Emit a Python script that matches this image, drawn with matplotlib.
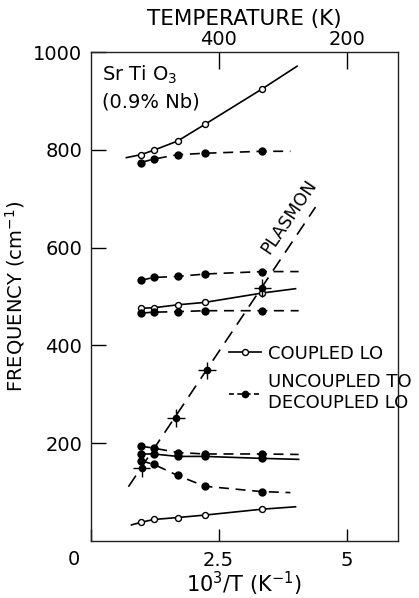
import numpy as np
import matplotlib
matplotlib.use("Agg")
import matplotlib.pyplot as plt
from matplotlib.lines import Line2D

# data, x = 10^3/T (K^-1), y = frequency (cm^-1)
x_pts = [0.98, 1.23, 1.7, 2.23, 3.34]

# coupled LO modes (open circles, solid lines)
lo_high = [790, 799, 818, 852, 924]
lo_high_x = [0.7, 0.98, 1.23, 1.7, 2.23, 3.34, 4.03]
lo_high_y = [784, 790, 799, 818, 852, 924, 971]
lo_mid = [476, 477, 483, 488, 507]
lo_mid_x = [0.98, 1.23, 1.7, 2.23, 3.34, 4.0]
lo_mid_y = [476, 477, 483, 488, 507, 516]
lo_low = [38, 44, 48, 53, 65]
lo_low_x = [0.8, 0.98, 1.23, 1.7, 2.23, 3.34, 4.0]
lo_low_y = [33, 38, 44, 48, 53, 65, 70]

# filled dots on solid line (~175)
to_solid = [178, 178, 173, 173, 169]
to_solid_end = (4.06, 167)

# uncoupled TO / decoupled LO (filled dots, dashed lines)
unc_series = [
    ([774, 781, 790, 793, 797], (3.9, 797)),
    ([533, 539, 541, 546, 551], (4.06, 551)),
    ([466, 468, 469, 471, 471], (4.06, 471)),
    ([194, 190, 181, 178, 178], (4.06, 177)),
    ([164, 157, 134, 112, 101], (3.9, 99)),
]

# plasmon
plasmon_x = [1.0, 1.67, 2.27, 3.35]
plasmon_y = [149, 252, 349, 518]
plasmon_line_x = [0.74, 4.39]
plasmon_line_y = [111, 683]

temp_ticks = [400, 200]

fs = 14
plt.rcParams['font.family'] = ['DejaVu Sans']

fig = plt.figure(figsize=(4.19, 5.98), dpi=100)
ax = fig.add_axes([0.216, 0.0953, 0.734, 0.8177])

lw = 1.2
dash = (0, (6, 4))

# coupled LO
ax.plot(lo_high_x, lo_high_y, color='black', lw=lw)
ax.plot(x_pts, lo_high, 'o', ms=4.3, mfc='white', mec='black', mew=1)
ax.plot(lo_mid_x, lo_mid_y, color='black', lw=lw)
ax.plot(x_pts, lo_mid, 'o', ms=4.3, mfc='white', mec='black', mew=1)
ax.plot(lo_low_x, lo_low_y, color='black', lw=lw)
ax.plot(x_pts, lo_low, 'o', ms=4.3, mfc='white', mec='black', mew=1)

# solid line with filled dots
ax.plot(x_pts + [to_solid_end[0]], to_solid + [to_solid_end[1]], color='black', lw=lw)
ax.plot(x_pts, to_solid, 'o', ms=5, color='black')

# uncoupled
for ys, end in unc_series:
    ax.plot(x_pts + [end[0]], ys + [end[1]], color='black', lw=lw, linestyle=dash)
    ax.plot(x_pts, ys, 'o', ms=5, color='black')

# plasmon
ax.plot(plasmon_line_x, plasmon_line_y, color='black', lw=lw, linestyle=(0, (8, 5)))
ax.errorbar(plasmon_x, plasmon_y, xerr=0.17, yerr=18, fmt='o', ms=4.5,
            color='black', elinewidth=1.0, capsize=0)
ax.text(3.88, 663, 'PLASMON', rotation=56, fontsize=12.5, ha='center', va='center',
        rotation_mode='anchor')

ax.text(0.22, 953, 'Sr Ti O$_3$', fontsize=fs, ha='left', va='center')
ax.text(0.22, 898, '(0.9% Nb)', fontsize=fs, ha='left', va='center')

ax.set_xlim(0, 6)
ax.set_ylim(0, 1000)

ax.set_xticks([0, 2.5, 5])
ax.set_xticklabels(['', '2.5', '5'], fontsize=fs)
ax.set_yticks([200, 400, 600, 800, 1000])
ax.set_yticklabels(['200', '400', '600', '800', '1000'], fontsize=fs)
ax.tick_params(direction='in', length=11, width=1, pad=6)
ax.tick_params(axis='x', length=9, pad=7)
ax.annotate('0', xy=(0, 0), xytext=(-12, -13), textcoords='offset points',
            fontsize=fs, ha='center', va='center')

ax.set_ylabel('FREQUENCY (cm$^{-1}$)', fontsize=fs, labelpad=4)
ax.set_xlabel('10$^3$/T (K$^{-1}$)', fontsize=15, labelpad=0)

top = ax.secondary_xaxis('top')
top.set_xticks([1000 / t for t in temp_ticks])
top.set_xticklabels([str(t) for t in temp_ticks], fontsize=fs)
top.tick_params(direction='in', length=12, width=1, pad=2)
top.set_xlabel('TEMPERATURE (K)', fontsize=15.5, labelpad=4)

for s in ax.spines.values():
    s.set_linewidth(1)
    s.set_color('#222222')
for s in top.spines.values():
    s.set_visible(False)

handles = [
    Line2D([], [], color='black', lw=lw, marker='o', ms=4.3, mfc='white', mec='black'),
    Line2D([], [], color='black', lw=lw, linestyle=(0, (3, 2)), marker='o', ms=4.5),
]
ax.legend(handles, ['COUPLED LO', 'UNCOUPLED TO\nDECOUPLED LO'], loc='upper left',
          bbox_to_anchor=(0.42, 0.42), frameon=False, fontsize=13, handlelength=1.8,
          handletextpad=0.35, labelspacing=0.6, borderpad=0)

fig.savefig('out.png', dpi=100)
